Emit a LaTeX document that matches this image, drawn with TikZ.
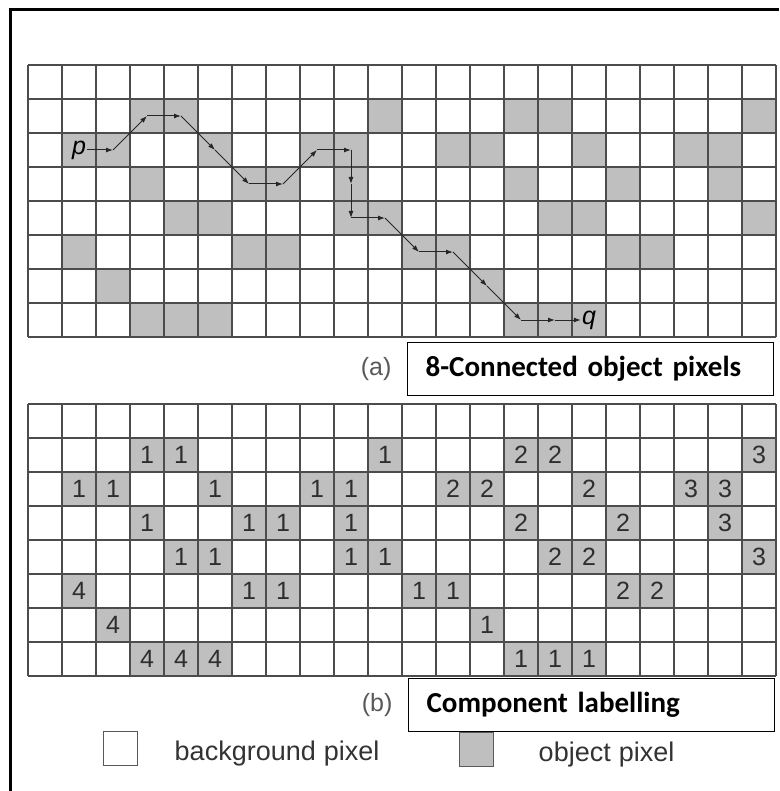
\documentclass[tikz,border=0pt]{standalone}
\usepackage{fontspec}
\usetikzlibrary{arrows.meta, positioning}

\newfontfamily\labelfont{Carlito}
\newfontfamily\plainfont{Liberation Sans}

% object pixels as column/row/component
\newcommand{\objpixels}{4/2/1, 5/2/1, 11/2/1, 15/2/2, 16/2/2, 22/2/3,
  2/3/1, 3/3/1, 6/3/1, 9/3/1, 10/3/1, 13/3/2, 14/3/2, 17/3/2, 20/3/3, 21/3/3,
  4/4/1, 7/4/1, 8/4/1, 10/4/1, 15/4/2, 18/4/2, 21/4/3,
  5/5/1, 6/5/1, 10/5/1, 11/5/1, 16/5/2, 17/5/2, 22/5/3,
  2/6/4, 7/6/1, 8/6/1, 12/6/1, 13/6/1, 18/6/2, 19/6/2,
  3/7/4, 14/7/1,
  4/8/4, 5/8/4, 6/8/4, 15/8/1, 16/8/1, 17/8/1}

\begin{document}
\begin{tikzpicture}[
    x=1pt, y=-1pt,
    obj/.style={fill=gray!50},
    gridline/.style={draw=black!70, line width=1.4pt},
    digit/.style={font=\plainfont\fontsize{25}{25}\selectfont, text=black!82},
    caption/.style={draw=black, line width=1.3pt, fill=white, anchor=north west,
        minimum width=366pt, minimum height=53pt, text width=330pt, align=left,
        inner xsep=18pt, font=\labelfont\bfseries\fontsize{29}{29}\selectfont},
    sub/.style={font=\plainfont\fontsize{25}{25}\selectfont, text=black!65},
    keybox/.style={draw=black!65, line width=1.2pt, minimum size=34pt, inner sep=0pt, anchor=north west},
    keytext/.style={font=\plainfont\fontsize{27}{27}\selectfont, text=black!80},
    trail/.style={-{Latex[length=7pt, width=5pt]}, line width=1pt, black!85},
    endpt/.style={font=\plainfont\itshape\fontsize{25}{25}\selectfont, inner sep=1pt},
]
\useasboundingbox (0,0) rectangle (779,791);

% frame, open at the right and bottom
\draw[line width=3pt] (10,791) -- (10,10) -- (779,10);

% (a) pixels and the path from p to q
\begin{scope}[shift={(28,65)}, x=34pt, y=-34pt]
  \foreach \c/\r/\l in \objpixels
    \fill[obj] (\c-1,\r-1) rectangle (\c,\r);
  \foreach \c in {0,...,22}
    \draw[gridline] (\c,0) -- (\c,8);
  \foreach \r in {0,...,8}
    \draw[gridline] (0,\r) -- (22,\r);
  \node[endpt] (p) at (1.5,2.5) {p};
  \node[endpt] (q) at (16.5,7.5) {q};
  \foreach \c/\r [count=\i] in {3/3, 4/2, 5/2, 6/3, 7/4, 8/4, 9/3, 10/3,
      10/4, 10/5, 11/5, 12/6, 13/6, 14/7, 15/8, 16/8}
    \coordinate (v\i) at (\c-0.5,\r-0.5);
\end{scope}

\draw[trail] (p) -- (v1);
\foreach \x/\y in {v1/v2, v2/v3, v3/v4, v4/v5, v5/v6, v6/v7, v7/v8, v8/v9,
    v9/v10, v10/v11, v11/v12, v12/v13, v13/v14, v14/v15, v15/v16}
  \draw[trail] (\x) -- (\y);
\draw[trail] (v16) -- (q);

\node[caption] (capa) at (407,342) {8-Connected object pixels};
\node[sub, left=12pt of capa] (suba) {(a)};

% (b) the same pixels with component labels
\begin{scope}[shift={(28,404)}, x=34pt, y=-34pt]
  \foreach \c/\r/\l in \objpixels {
    \fill[obj] (\c-1,\r-1) rectangle (\c,\r);
    \node[digit] (n-\c-\r) at (\c-0.5,\r-0.5) {\l};
  }
  \foreach \c in {0,...,22}
    \draw[gridline] (\c,0) -- (\c,8);
  \foreach \r in {0,...,8}
    \draw[gridline] (0,\r) -- (22,\r);
\end{scope}

\node[caption] (capb) at (408,678) {Component labelling};
\node[sub, left=12pt of capb] (subb) {(b)};

% legend
\node[keybox] (bgkey) at (103,731) {};
\node[keytext, right=33pt of bgkey, yshift=-5pt] (bgtext) {background\hspace{8pt}pixel};
\node[keybox, fill=gray!50] (objkey) at (459,732) {};
\node[keytext, right=41pt of objkey, yshift=-5pt] (objtext) {object\hspace{8pt}pixel};

\end{tikzpicture}
\end{document}
